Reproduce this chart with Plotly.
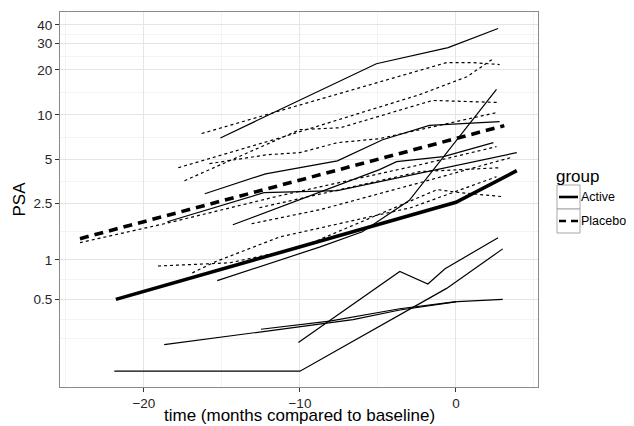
import math
import plotly.graph_objects as go

# ---------------- data (time in months, PSA values) ----------------
OFFSET = 0.1  # y scale is log(PSA + 0.1)

active_times = [
    [-15.1, -5.1, -0.5, 2.7],
    [-16.1, -12.2, -7.6, -4.7, -1.7, 2.8],
    [-14.3, -4.9, -3.8, -0.8, 2.4],
    [-18.5, -12.3, -7.6, 3.9],
    [-15.3, -8.7, -6.0, -3.0, 2.6],
    [-21.9, -10.0, -0.6, 3.0],
    [-10.1, -3.6, -1.8, -0.7, 2.7],
    [-18.7, -8.7, -6.6, -3.6, 0.1, 3.0],
    [-12.5, -8.1, -3.6, 0.0],
]
active_psa = [
    [7.0, 22.0, 28.2, 37.8],
    [2.92, 4.0, 4.9, 6.8, 8.5, 9.0],
    [1.78, 4.27, 4.84, 5.23, 6.5],
    [1.87, 2.97, 3.07, 5.57],
    [0.70, 1.24, 1.59, 2.62, 14.8],
    [0.10, 0.10, 0.61, 1.20],
    [0.21, 0.82, 0.66, 0.86, 1.44],
    [0.20, 0.31, 0.34, 0.41, 0.48, 0.50],
    [0.28, 0.33, 0.42, 0.48],
]

placebo_times = [
    [-16.3, -0.6, 1.1, 2.8],
    [-17.8, -11.3, -2.3, -1.0, 0.7, 2.3],
    [-15.8, -12.1, -10.0, -7.6, -4.9, -2.3, 2.6],
    [-17.4, -10.0, -7.4, -2.3, -1.5, 0.7, 2.8],
    [-24.1, -18.4, -11.3, -2.3, 2.6],
    [-13.1, -8.7, -2.3, 3.5],
    [-12.6, -2.3, 2.8],
    [-16.9, -15.4, -11.3, -2.9, 2.6],
    [-19.1, -14.5, -10.0, -1.2, 0.3, 3.0],
]
placebo_psa = [
    [7.5, 22.4, 22.4, 21.7],
    [4.4, 7.0, 13.7, 15.5, 18.0, 23.4],
    [4.69, 5.39, 5.57, 6.5, 6.92, 7.96, 10.36],
    [3.59, 7.96, 8.2, 11.7, 12.5, 12.3, 12.1],
    [1.33, 1.84, 2.83, 4.61, 6.11],
    [1.81, 2.27, 3.48, 5.15],
    [2.34, 4.14, 4.40],
    [0.80, 0.97, 1.46, 2.34, 3.82],
    [0.90, 0.95, 1.22, 3.12, 2.97, 2.79],
]

mean_active_time = [-21.8, 0.0, 3.9]
mean_active_psa = [0.50, 2.55, 4.2]
mean_placebo_time = [-24.1, 3.1]
mean_placebo_psa = [1.42, 8.47]

y_breaks = [0.5, 1, 2.5, 5, 10, 20, 30, 40]
y_labels = ["0.5", "1", "2.5", "5", "10", "20", "30", "40"]
y_extra_break = 0.228          # unlabeled break below 0.5
x_breaks = [-20, -10, 0]
x_labels = ["\u221220", "\u221210", "0"]
x_minor = [-25, -15, -5, 5]
x_range = [-25.38, 5.26]
y_range = [0.057, 48.67]

x_title = "time (months compared to baseline)"
y_title = "PSA"


def tr(values):
    return [v + OFFSET for v in values]


fig = go.Figure()

for t, p in zip(active_times, active_psa):
    fig.add_trace(go.Scatter(x=t, y=tr(p), mode="lines",
                             line=dict(color="black", width=1.2),
                             showlegend=False, hoverinfo="skip"))
for t, p in zip(placebo_times, placebo_psa):
    fig.add_trace(go.Scatter(x=t, y=tr(p), mode="lines",
                             line=dict(color="black", width=1.2, dash="3px,3px"),
                             showlegend=False, hoverinfo="skip"))

fig.add_trace(go.Scatter(x=mean_placebo_time, y=tr(mean_placebo_psa), mode="lines",
                         line=dict(color="black", width=3.6, dash="9px,6px"),
                         showlegend=False, hoverinfo="skip"))
fig.add_trace(go.Scatter(x=mean_active_time, y=tr(mean_active_psa), mode="lines",
                         line=dict(color="black", width=3.6),
                         showlegend=False, hoverinfo="skip"))

# minor gridlines: midpoints (in transformed space) between breaks
all_breaks = tr([y_extra_break] + y_breaks)
y_minor = [math.sqrt(a * b) for a, b in zip(all_breaks[:-1], all_breaks[1:])]
y_minor.append(all_breaks[0])

FONT = "Liberation Sans, Arial, Helvetica, sans-serif"

# the page body has an 8px default margin, so the figure is 8px smaller
fig.update_layout(
    width=626, height=418,
    margin=dict(l=52, r=96, t=4, b=39, autoexpand=False),
    paper_bgcolor="white", plot_bgcolor="white",
    font=dict(family=FONT, color="#1a1a1a"),
    showlegend=False,
    xaxis=dict(
        automargin=False,
        range=x_range, tickmode="array", tickvals=x_breaks, ticktext=x_labels,
        showgrid=True, gridcolor="#e5e5e5", gridwidth=1.1, zeroline=False,
        minor=dict(tickmode="array", tickvals=x_minor, showgrid=True,
                   gridcolor="#f3f3f3", gridwidth=0.6, ticks=""),
        showline=True, linecolor="#8a8a8a", linewidth=1, mirror=True,
        ticks="outside", ticklen=4, tickcolor="#333333", tickwidth=1,
        tickfont=dict(size=13.5, color="#262626"),
    ),
    yaxis=dict(
        automargin=False,
        type="log", range=[math.log10(y_range[0] + OFFSET), math.log10(y_range[1] + OFFSET)],
        tickmode="array", tickvals=tr(y_breaks), ticktext=y_labels,
        showgrid=True, gridcolor="#e5e5e5", gridwidth=1.1, zeroline=False,
        minor=dict(tickmode="array", tickvals=y_minor, showgrid=True,
                   gridcolor="#f3f3f3", gridwidth=0.6, ticks=""),
        showline=True, linecolor="#8a8a8a", linewidth=1, mirror=True,
        ticks="outside", ticklen=4, tickcolor="#333333", tickwidth=1,
        tickfont=dict(size=13.5, color="#262626"),
    ),
)

# ---- helpers: page pixel -> paper fraction (panel is 478 x 375 px) ----
def px_x(px):
    return (px - 60) / 478.0


def px_y(py):
    return (387 - py) / 375.0


# axis titles
fig.add_annotation(x=0.5, y=px_y(416), xref="paper", yref="paper",
                   text=x_title, showarrow=False, xanchor="center", yanchor="middle",
                   borderpad=0, font=dict(size=17, color="#000", family=FONT))
fig.add_annotation(x=px_x(19), y=0.5, xref="paper", yref="paper",
                   text=y_title, showarrow=False, textangle=-90,
                   xanchor="center", yanchor="middle",
                   borderpad=0, font=dict(size=17, color="#000", family=FONT))

# ---- manual legend in ggplot style ----
fig.add_annotation(x=px_x(556), y=px_y(176), xref="paper", yref="paper",
                   text="group", showarrow=False, xanchor="left", yanchor="middle",
                   borderpad=0, borderwidth=0,
                   font=dict(size=17, color="#000", family=FONT))
for top, bot in [(185, 209), (209, 233)]:
    fig.add_shape(type="rect", xref="paper", yref="paper",
                  x0=px_x(557), x1=px_x(580), y0=px_y(bot), y1=px_y(top),
                  line=dict(color="#a6a6a6", width=1), fillcolor="white")
fig.add_shape(type="line", xref="paper", yref="paper",
              x0=px_x(559), x1=px_x(578), y0=px_y(197), y1=px_y(197),
              line=dict(color="black", width=2.6))
fig.add_shape(type="line", xref="paper", yref="paper",
              x0=px_x(559), x1=px_x(578), y0=px_y(221), y1=px_y(221),
              line=dict(color="black", width=2.6, dash="7px,5px"))
for label, py in [("Active", 197), ("Placebo", 221)]:
    fig.add_annotation(x=px_x(581), y=px_y(py), xref="paper", yref="paper",
                       text=label, showarrow=False, xanchor="left", yanchor="middle",
                       borderpad=0, borderwidth=0,
                       font=dict(size=12.5, color="#000", family=FONT))

fig.write_html("out.html")
